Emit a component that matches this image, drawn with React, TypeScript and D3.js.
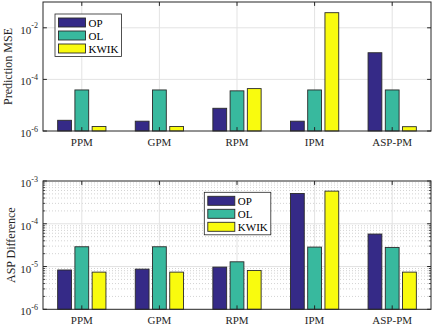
import React from "react";
import * as d3 from "d3";

const categories = ["PPM", "GPM", "RPM", "IPM", "ASP-PM"];
const seriesNames = ["OP", "OL", "KWIK"];
const seriesColors = ["#352a87", "#38b99e", "#f9fb0e"];

const mseOP = [2.6e-6, 2.4e-6, 7.6e-6, 2.4e-6, 1.08e-3];
const mseOL = [3.9e-5, 3.9e-5, 3.6e-5, 3.9e-5, 3.9e-5];
const mseKWIK = [1.5e-6, 1.5e-6, 4.4e-5, 3.85e-2, 1.47e-6];

const aspOP = [8.3e-6, 8.7e-6, 9.7e-6, 5.1e-4, 5.75e-5];
const aspOL = [2.9e-5, 2.9e-5, 1.29e-5, 2.85e-5, 2.8e-5];
const aspKWIK = [7.4e-6, 7.4e-6, 8.1e-6, 5.8e-4, 7.4e-6];

const topTickExps = [-6, -4, -2];
const bottomTickExps = [-6, -5, -4, -3];

const FONT = "'Liberation Serif', 'Times New Roman', serif";
const AXIS_COLOR = "#262626";

type PanelProps = {
  series: number[][];
  top: number;
  bottom: number;
  domain: [number, number];
  tickExps: number[];
  minor: boolean;
  ylabel: string;
  legend: { x: number; y: number };
};

const LEFT = 43;
const RIGHT = 431;

function Panel({ series, top, bottom, domain, tickExps, minor, ylabel, legend }: PanelProps) {
  const x = d3.scaleLinear().domain([0.5, categories.length + 0.5]).range([LEFT, RIGHT]);
  const y = d3.scaleLog().domain(domain).range([bottom, top]);
  const groupWidth = Math.min(0.8, 3 / (3 + 1.5));
  const step = groupWidth / 3;
  const barW = step * 0.8;

  const minorVals: number[] = [];
  if (minor) {
    const lo = Math.round(Math.log10(domain[0]));
    const hi = Math.round(Math.log10(domain[1]));
    for (let e = lo; e < hi; e++) {
      for (let m = 2; m <= 9; m++) minorVals.push(m * Math.pow(10, e));
    }
  }
  const gridExps = tickExps.filter((e) => y(Math.pow(10, e)) > top + 0.5 && y(Math.pow(10, e)) < bottom - 0.5);

  return (
    <g>
      {/* minor grid */}
      {minorVals.map((v, i) => (
        <line key={"mg" + i} x1={LEFT} x2={RIGHT} y1={y(v)} y2={y(v)} stroke="#c8c8c8" strokeWidth={0.8} strokeDasharray="1,2" />
      ))}
      {/* major grid */}
      {gridExps.map((e) => (
        <line key={"g" + e} x1={LEFT} x2={RIGHT} y1={y(Math.pow(10, e))} y2={y(Math.pow(10, e))} stroke="#e3e3e3" strokeWidth={1} />
      ))}
      {categories.map((c, i) => (
        <line key={"vg" + c} x1={x(i + 1)} x2={x(i + 1)} y1={top} y2={bottom} stroke="#e3e3e3" strokeWidth={1} />
      ))}
      {/* bars */}
      {series.map((vals, s) =>
        vals.map((v, i) => {
          const cx = x(i + 1 + (s - 1) * step);
          const yv = y(v);
          return (
            <rect
              key={"b" + s + "-" + i}
              x={cx - x(barW / 2) + x(0)}
              y={yv}
              width={x(barW) - x(0)}
              height={bottom - yv}
              fill={seriesColors[s]}
              stroke="#2a2a2a"
              strokeWidth={0.9}
            />
          );
        })
      )}
      {/* axes box */}
      <rect x={LEFT} y={top} width={RIGHT - LEFT} height={bottom - top} fill="none" stroke={AXIS_COLOR} strokeWidth={1} />
      {/* x ticks */}
      {categories.map((c, i) => (
        <g key={"xt" + c}>
          <line x1={x(i + 1)} x2={x(i + 1)} y1={bottom} y2={bottom - 3.9} stroke={AXIS_COLOR} />
          <line x1={x(i + 1)} x2={x(i + 1)} y1={top} y2={top + 3.9} stroke={AXIS_COLOR} />
          <text x={x(i + 1)} y={bottom + 15} textAnchor="middle" fontFamily={FONT} fontSize={11} fill={AXIS_COLOR}>
            {c}
          </text>
        </g>
      ))}
      {/* y ticks */}
      {tickExps.map((e) => {
        const yy = y(Math.pow(10, e));
        return (
          <g key={"yt" + e}>
            <line x1={LEFT} x2={LEFT + 3.9} y1={yy} y2={yy} stroke={AXIS_COLOR} />
            <line x1={RIGHT} x2={RIGHT - 3.9} y1={yy} y2={yy} stroke={AXIS_COLOR} />
            <text x={LEFT - 5} y={yy + 6} textAnchor="end" fontFamily={FONT} fontSize={11} fill={AXIS_COLOR}>
              10
              <tspan fontSize={8} dy={-5.5}>
                {String(e)}
              </tspan>
            </text>
          </g>
        );
      })}
      {minorVals.map((v, i) => (
        <g key={"mt" + i}>
          <line x1={LEFT} x2={LEFT + 2.2} y1={y(v)} y2={y(v)} stroke={AXIS_COLOR} strokeWidth={0.8} />
          <line x1={RIGHT} x2={RIGHT - 2.2} y1={y(v)} y2={y(v)} stroke={AXIS_COLOR} strokeWidth={0.8} />
        </g>
      ))}
      {/* y label */}
      <text
        transform={`translate(${ylabel === "Prediction MSE" ? 12 : 15},${(top + bottom) / 2}) rotate(-90)`}
        textAnchor="middle"
        fontFamily={FONT}
        fontSize={12}
        fill={AXIS_COLOR}
      >
        {ylabel}
      </text>
      {/* legend */}
      <g transform={`translate(${legend.x},${legend.y})`}>
        <rect x={0} y={0} width={66.5} height={42.5} fill="#ffffff" stroke={AXIS_COLOR} strokeWidth={0.8} />
        {seriesNames.map((n, s) => (
          <g key={"lg" + n} transform={`translate(0,${3.5 + s * 13})`}>
            <rect x={3.5} y={0.5} width={27} height={9} fill={seriesColors[s]} stroke="#2a2a2a" strokeWidth={0.9} />
            <text x={33.5} y={9} fontFamily={FONT} fontSize={11} fill="#000">
              {n}
            </text>
          </g>
        ))}
      </g>
    </g>
  );
}

export default function App() {
  return (
    <svg
      width={436}
      height={329}
      style={{ position: "absolute", left: 0, top: 0, background: "#fff" }}
      xmlns="http://www.w3.org/2000/svg"
    >
      <rect x={0} y={0} width={436} height={329} fill="#fff" />
      <Panel
        series={[mseOP, mseOL, mseKWIK]}
        top={2}
        bottom={131}
        domain={[1e-6, 1e-1]}
        tickExps={topTickExps}
        minor={false}
        ylabel="Prediction MSE"
        legend={{ x: 55, y: 14 }}
      />
      <Panel
        series={[aspOP, aspOL, aspKWIK]}
        top={181}
        bottom={309.3}
        domain={[1e-6, 1e-3]}
        tickExps={bottomTickExps}
        minor={true}
        ylabel="ASP Difference"
        legend={{ x: 204.3, y: 192.3 }}
      />
    </svg>
  );
}
